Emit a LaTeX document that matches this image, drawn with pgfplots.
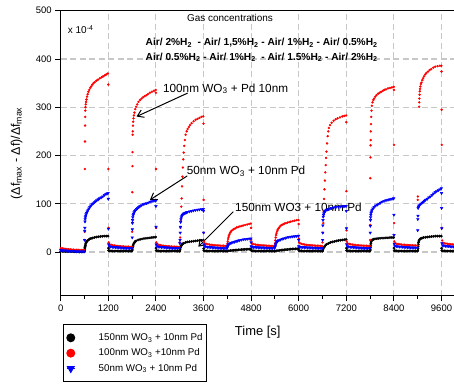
\documentclass[border=0pt]{standalone}
\usepackage{fontspec}
\setmainfont{Liberation Sans}
\usepackage{pgfplots}
\pgfplotsset{compat=1.18}
\usetikzlibrary{arrows.meta}
\newcommand\fs[1]{\fontsize{#1}{#1}\selectfont}
\begin{document}
\begin{tikzpicture}
\useasboundingbox (0,0) rectangle (454bp,387bp);
\begin{axis}[
  at={(60.7bp,91.3bp)}, anchor=south west,
  width=393.3bp, height=285bp, scale only axis,
  xmin=0, xmax=9915, ymin=-90.5, ymax=500,
  axis x line=box, axis y line*=left,
  xtick pos=left, xticklabel pos=left,
  tick align=outside,
  major tick length=5.5bp, minor tick length=3bp,
  xtick={0,1200,...,9600}, minor x tick num=1,
  ytick={0,100,...,500},
  grid=major,
  grid style={dash pattern=on 6bp off 3.5bp, black!22, line width=1.1bp},
  tick style={black, line width=0.9bp},
  axis line style={line width=1.3bp},
  ticklabel style={font=\fs{9.5}},
  /pgf/number format/assume math mode=true,
  /pgf/number format/1000 sep={},
  xlabel={Time [s]},
  xlabel style={font=\fs{13}, at={(axis description cs:0.501,-0.129)}, anchor=center},
  ylabel={(Δf\textsubscript{max} - Δf)/Δf\textsubscript{max}},
  ylabel style={font=\fs{12.5}, at={(axis description cs:-0.112,0.5)}, anchor=center},
  legend style={at={(axis description cs:0.0068,-0.0995)}, anchor=north west,
    draw=black, line width=0.9bp, font=\fs{9.8}, row sep=2.8bp,
    inner xsep=2.5bp, inner ysep=7bp,
    nodes={inner xsep=1bp, inner ysep=2bp},
    /tikz/every odd column/.append style={column sep=22.5bp},
    cells={anchor=west}},
  legend image code/.code={\path (0bp,0bp) -- (8bp,0bp); \draw[#1, mark size=4bp] plot coordinates {(4bp,0bp)};},
]
% black: 150nm WO3
\addplot[only marks, mark=*, mark size=1.2bp, black] coordinates {
(0,1.5)(40,1.5)(80,1.5)(120,1)(160,1)(200,1)(240,1)(280,1)(320,1)(360,0.5)(400,0.5)(440,0.5)(480,0.5)(520,0.5)(560,0.5)(595,0.5)
(600,3)(605,6)(610,9)(615,12)(620,14)(630,17)(640,19)(650,21)(670,23)(700,25)(730,27)(760,28)(800,29)(850,30)(900,31)(950,31.5)(1000,32)(1050,32.5)(1100,33)(1150,33)(1195,33)
(1203,8)(1208,3)(1230,2.5)(1270,2.5)(1310,2)(1350,2)(1390,2)(1430,2)(1470,2)(1510,2)(1550,2)(1590,2)(1630,2)(1670,2)(1710,2)(1750,2)(1790,2)
(1800,3)(1805,6)(1810,9)(1820,12)(1830,15)(1845,18)(1860,20)(1880,22)(1900,23)(1950,25)(2000,26)(2050,27)(2100,28)(2150,28.5)(2200,29)(2250,29.5)(2300,30)(2350,30.5)(2395,31)
(2403,8)(2408,3)(2430,2.5)(2470,2.5)(2510,2)(2550,2)(2590,2)(2630,2)(2670,2)(2710,2)(2750,2)(2790,2)(2830,2)(2870,2)(2910,2)(2950,2)(2990,2)
(3000,2)(3005,4)(3010,6)(3020,9)(3030,12)(3045,14)(3060,16)(3080,17)(3100,18)(3150,20)(3200,21)(3250,21.5)(3300,22)(3350,22.5)(3400,23)(3450,23.5)(3500,24)(3550,24)(3595,24.5)
(3603,7)(3608,3)(3630,2.5)(3670,2.5)(3710,2)(3750,2)(3790,2)(3830,2)(3870,2)(3910,2)(3950,2)(3990,2)(4030,2)(4070,2)(4110,2)(4150,2)(4190,2)
(4200,2)(4240,2.5)(4280,3)(4320,3.3)(4360,3.6)(4400,4)(4440,4.2)(4480,4.5)(4520,4.7)(4560,5)(4600,5.2)(4640,5.4)(4680,5.6)(4720,5.8)(4760,6)(4795,6.2)
(4805,3)(4830,2.5)(4870,2.5)(4910,2)(4950,2)(4990,2)(5030,2)(5070,2)(5110,2)(5150,2)(5190,2)(5230,2)(5270,2)(5310,2)(5350,2)(5390,2)
(5400,2)(5440,2.5)(5480,3)(5520,3.5)(5560,4)(5600,4.3)(5640,4.6)(5680,5)(5720,5.3)(5760,5.6)(5800,5.9)(5840,6.2)(5880,6.4)(5920,6.6)(5960,6.8)(5995,7)
(6005,3)(6030,2.5)(6070,2.5)(6110,2)(6150,2)(6190,2)(6230,2)(6270,2)(6310,2)(6350,2)(6390,2)(6430,2)(6470,2)(6510,2)(6550,2)(6590,2)
(6600,2)(6605,4)(6610,6)(6620,8)(6635,10)(6650,11)(6675,14)(6700,16)(6750,18)(6800,20)(6850,21)(6900,22)(6950,23)(7000,24)(7050,24.5)(7100,25)(7150,25.5)(7195,26)
(7203,8)(7208,3)(7230,2.5)(7270,2.5)(7310,2)(7350,2)(7390,2)(7430,2)(7470,2)(7510,2)(7550,2)(7590,2)(7630,2)(7670,2)(7710,2)(7750,2)(7790,2)
(7800,3)(7805,6)(7810,10)(7815,14)(7820,18)(7825,21)(7830,23)(7840,24)(7850,25)(7875,26)(7900,27)(7950,27.5)(8000,28)(8050,28.5)(8100,29)(8150,29)(8200,29.5)(8250,29.5)(8300,30)(8350,30)(8395,30)
(8403,8)(8408,3)(8430,2.5)(8470,2.5)(8510,2)(8550,2)(8590,2)(8630,2)(8670,2)(8710,2)(8750,2)(8790,2)(8830,2)(8870,2)(8910,2)(8950,2)(8990,2)
(9000,3)(9005,7)(9010,12)(9015,16)(9020,20)(9030,23)(9040,25)(9060,27)(9080,28)(9110,29)(9150,30)(9200,30.5)(9250,31)(9300,31.5)(9350,32)(9400,32.5)(9450,33)(9500,33)(9550,33)(9595,33)
(9603,8)(9608,3)(9630,2.5)(9670,2.5)(9710,2)(9750,2)(9790,2)(9830,2)(9870,2)(9910,2)
};
\addlegendentry{150nm WO\textsubscript{3} + 10nm Pd}
% red: 100nm WO3
\addplot[only marks, mark=*, mark size=1bp, red] coordinates {
(0,8)(40,7.5)(80,7)(120,6.5)(160,6)(200,5.5)(240,5.5)(280,5)(320,5)(360,4.5)(400,4.5)(440,4.5)(480,4)(520,4)(560,4)(590,4)
(603,25)(606,42)(609,172)(612,229)(615,262)(618,280)(621,293)(625,300)(632,306)(640,311)(650,316)(665,322)(680,327)(700,332)(720,336)(745,340)(770,343)(800,347)(830,350)(860,352)(900,355)(940,357)(985,360)(1030,362)(1070,364)(1110,366)(1150,368)(1190,370)
(1200,347)(1203,172)(1206,50)
(1210,20)(1230,16)(1270,15)(1310,14)(1350,13.5)(1390,13)(1430,12.5)(1470,12)(1510,12)(1550,11.5)(1590,11.5)(1630,11)(1670,11)(1710,11)(1750,10.5)(1790,10.5)
(1800,42)(1803,61)(1806,124)(1809,178)(1812,207)(1815,243)(1818,250)(1822,262)(1828,270)(1836,277)(1846,283)(1860,289)(1880,296)(1900,301)(1930,306)(1960,311)(2000,315)(2040,318)(2080,321)(2120,323)(2160,325)(2200,327)(2250,330)(2300,332)(2350,334)(2395,336)
(2400,330)(2403,172)(2406,50)
(2410,20)(2430,16)(2470,15)(2510,14)(2550,13.5)(2590,13)(2630,12.5)(2670,12)(2710,12)(2750,11.5)(2790,11.5)(2830,11)(2870,11)(2910,11)(2950,10.5)(2990,10.5)
(3003,20)(3010,30)(3020,50)(3030,66)(3040,94)(3050,111)(3060,136)(3070,156)(3080,175)(3090,192)(3100,206)(3115,220)(3130,232)(3150,243)(3175,250)(3200,255)(3230,259)(3260,263)(3300,267)(3350,271)(3400,274)(3450,276)(3500,278)(3550,280)(3595,281)
(3600,266)(3603,108)(3606,40)
(3610,22)(3630,18)(3670,17)(3710,16)(3750,15.5)(3790,15)(3830,14.5)(3870,14)(3910,14)(3950,13.5)(3990,13.5)(4030,13)(4070,13)(4110,13)(4150,12.5)(4190,12.5)
(4200,14)(4205,18)(4210,22)(4220,27)(4230,31)(4240,34)(4255,37)(4270,40)(4290,42)(4310,44)(4340,46)(4370,48)(4400,49)(4440,51)(4480,52)(4520,53)(4560,54)(4600,55)(4650,56)(4700,57)(4750,58)(4795,59)
(4800,50)(4803,25)
(4810,19)(4830,17)(4870,16)(4910,15.5)(4950,15)(4990,14.5)(5030,14)(5070,14)(5110,13.5)(5150,13.5)(5190,13)(5230,13)(5270,12.5)(5310,12.5)(5350,12.5)(5390,12)
(5400,14)(5405,18)(5410,24)(5420,30)(5430,35)(5440,39)(5455,43)(5470,46)(5490,49)(5510,51)(5540,54)(5570,56)(5600,57)(5640,59)(5680,60)(5720,61)(5760,62)(5800,63)(5850,64)(5900,65)(5950,66)(5995,66)
(6000,58)(6003,28)
(6010,20)(6030,18)(6070,17)(6110,16)(6150,15.5)(6190,15)(6230,14.5)(6270,14)(6310,14)(6350,13.5)(6390,13.5)(6430,13)(6470,13)(6510,13)(6550,12.5)(6590,12.5)
(6600,20)(6610,40)(6620,60)(6630,85)(6640,110)(6650,130)(6660,148)(6670,165)(6680,180)(6690,195)(6700,208)(6715,225)(6730,240)(6745,250)(6760,257)(6790,263)(6830,268)(6880,272)(6930,275)(6980,277)(7040,279)(7100,281)(7150,282)(7195,283)
(7200,269)(7203,126)(7206,45)
(7210,22)(7230,18)(7270,17)(7310,16)(7350,15.5)(7390,15)(7430,14.5)(7470,14)(7510,14)(7550,13.5)(7590,13.5)(7630,13)(7670,13)(7710,13)(7750,12.5)(7790,12.5)
(7800,25)(7803,56)(7806,153)(7809,196)(7812,221)(7815,232)(7818,250)(7822,265)(7828,280)(7836,293)(7846,303)(7860,310)(7880,315)(7900,318)(7930,322)(7960,325)(8000,328)(8040,330)(8080,332)(8120,334)(8160,336)(8200,337)(8250,339)(8300,340)(8350,341)(8395,342)
(8400,336)(8403,222)(8406,60)
(8410,22)(8430,18)(8470,17)(8510,16.5)(8550,16)(8590,15.5)(8630,15)(8670,15)(8710,14.5)(8750,14.5)(8790,14)(8830,14)(8870,14)(8910,13.5)(8950,13.5)(8990,13.5)
(9000,108)(9004,115)(9035,301)(9039,310)(9043,318)(9047,326)(9052,333)(9058,338)(9066,343)(9080,348)(9094,351)(9115,356)(9137,360)(9160,364)(9190,368)(9220,371)(9260,374)(9300,377)(9340,379)(9390,382)(9440,384)(9500,385)(9558,386)(9595,386)
(9600,374)(9603,295)(9606,222)(9609,50)
(9615,24)(9635,19)(9670,18)(9710,17.5)(9750,17)(9790,16.5)(9830,16)(9870,16)(9910,15.5)
};
\addlegendentry{100nm WO\textsubscript{3} +10nm Pd}
% blue: 50nm WO3
\addplot[only marks, mark=triangle*, mark size=1.5bp, blue, mark options={rotate=180}] coordinates {
(0,4)(40,3.5)(80,3)(120,3)(160,2.5)(200,2.5)(240,2)(280,2)(320,2)(360,1.5)(400,1.5)(440,1.5)(480,1)(520,1)(560,1)(590,1)
(603,25)(606,44)(609,50)(612,63)(616,68)(622,72)(630,75)(640,78)(655,81)(670,84)(690,87)(710,90)(735,93)(760,96)(790,99)(820,101)(850,103)(880,105)(910,107)(945,109)(980,111)(1020,113)(1060,115)(1100,118)(1140,120)(1170,121)(1195,122)
(1200,110)(1203,48)
(1208,16)(1225,12)(1260,11)(1300,10.5)(1340,10)(1380,10)(1420,9.5)(1460,9)(1500,9)(1540,8.5)(1580,8.5)(1620,8)(1660,8)(1700,8)(1740,7.5)(1790,7.5)
(1803,30)(1806,47)(1809,60)(1812,66)(1818,72)(1826,76)(1836,79)(1850,82)(1870,85)(1890,87)(1915,89)(1940,91)(1970,93)(2000,95)(2040,97)(2080,99)(2120,100)(2160,101)(2200,102)(2250,104)(2300,105)(2350,106)(2395,106)
(2400,95)(2403,52)
(2408,16)(2425,12)(2460,11)(2500,10.5)(2540,10)(2580,10)(2620,9.5)(2660,9)(2700,9)(2740,8.5)(2780,8.5)(2820,8)(2860,8)(2900,8)(2940,7.5)(2990,7.5)
(3003,18)(3008,25)(3013,40)(3018,52)(3024,62)(3030,68)(3040,72)(3055,75)(3070,77)(3090,79)(3115,80)(3140,81)(3170,82)(3200,83)(3250,84)(3300,85)(3350,86)(3400,87)(3450,87.5)(3500,88)(3550,88.5)(3595,89)
(3600,85)(3603,40)
(3608,16)(3625,12)(3660,11)(3700,10.5)(3740,10)(3780,10)(3820,9.5)(3860,9)(3900,9)(3940,8.5)(3980,8.5)(4020,8)(4060,8)(4100,8)(4140,7.5)(4190,7.5)
(4200,10)(4210,12)(4220,14)(4235,16)(4250,17)(4270,18)(4300,19)(4340,20)(4380,21)(4420,22)(4460,23)(4500,24)(4550,25)(4600,26)(4650,26.5)(4700,27)(4750,27.5)(4795,28)
(4800,20)(4803,12)
(4808,11)(4825,10.5)(4860,10)(4900,10)(4940,9.5)(4980,9.5)(5020,9)(5060,9)(5100,9)(5140,8.5)(5180,8.5)(5220,8.5)(5260,8)(5300,8)(5340,8)(5390,8)
(5400,10)(5410,13)(5420,16)(5435,19)(5450,21)(5470,23)(5500,24)(5540,25.5)(5580,27)(5620,28)(5660,29)(5700,30)(5750,31)(5800,31.5)(5850,32)(5900,32.5)(5950,33)(5995,33.5)
(6000,25)(6003,12)
(6008,11)(6025,10.5)(6060,10)(6100,10)(6140,9.5)(6180,9.5)(6220,9)(6260,9)(6300,9)(6340,8.5)(6380,8.5)(6420,8.5)(6460,8)(6500,8)(6540,8)(6590,8)
(6603,25)(6606,40)(6609,55)(6612,66)(6618,73)(6626,77)(6636,80)(6650,83)(6670,85)(6690,87)(6720,88)(6750,89)(6790,90)(6830,91)(6880,92)(6940,93)(7000,93.5)(7060,94)(7120,94.5)(7160,95)(7195,95)
(7200,85)(7203,49)
(7208,16)(7225,12)(7260,11)(7300,10.5)(7340,10)(7380,10)(7420,9.5)(7460,9)(7500,9)(7540,8.5)(7580,8.5)(7620,8)(7660,8)(7700,8)(7740,7.5)(7790,7.5)
(7803,40)(7806,54)(7809,66)(7813,72)(7818,77)(7825,81)(7835,84)(7850,87)(7870,90)(7900,93)(7940,96)(7980,98)(8020,100)(8060,102)(8100,104)(8150,105.5)(8200,107)(8250,108)(8300,109)(8350,110)(8395,111)
(8400,77)(8403,35)
(8408,17)(8425,13)(8460,12)(8500,11.5)(8540,11)(8580,11)(8620,10.5)(8660,10)(8700,10)(8740,9.5)(8780,9.5)(8820,9)(8860,9)(8900,9)(8940,8.5)(8990,8.5)
(9000,45)(9003,68)(9006,75)(9010,91)(9020,94)(9035,96)(9055,98)(9080,100)(9110,102)(9140,104)(9170,106)(9200,108)(9240,110)(9280,113)(9320,115)(9360,118)(9400,121)(9440,124)(9480,126)(9520,128)(9560,130)(9595,132)
(9600,122)(9603,91)(9606,49)
(9610,18)(9630,14)(9660,13)(9700,12.5)(9740,12)(9780,12)(9820,11.5)(9860,11)(9900,11)
};
\addlegendentry{50nm WO\textsubscript{3} + 10nm Pd}
% annotations
\node[inner sep=0, font=\fs{10}] at (axis cs:4269,485) {Gas concentrations};
\node[inner sep=0, anchor=west, font=\fs{10}] at (axis cs:177,460.6) {x 10\textsuperscript{-4}};
\node[inner sep=0, anchor=west, font=\bfseries\fs{10.2}] at (axis cs:2139,433.6) {Air/ 2\%H\textsubscript{2}\ \ - Air/ 1,5\%H\textsubscript{2} - Air/ 1\%H\textsubscript{2} - Air/ 0.5\%H\textsubscript{2}};
\node[inner sep=0, anchor=west, font=\bfseries\fs{10.2}] at (axis cs:2139,403.5) {Air/ 0.5\%H\textsubscript{2} - Air/ 1\%H\textsubscript{2}\ \ - Air/ 1.5\%H\textsubscript{2} - Air/ 2\%H\textsubscript{2}};
\node[inner sep=0, anchor=west, font=\fs{11.8}] at (axis cs:2577,338.2) {100nm WO\textsubscript{3} + Pd 10nm};
\node[inner sep=0, anchor=west, font=\fs{11.8}] at (axis cs:3175,166.6) {50nm WO\textsubscript{3} + 10nm Pd};
\node[inner sep=0, anchor=west, font=\fs{11.8}] at (axis cs:4395,92.7) {150nm WO3 + 10nm Pd};
\draw[-{Straight Barb[length=6bp,width=8bp]}, line width=1bp] (axis cs:3200,329.3) -- (axis cs:1912,280.7);
\draw[-{Straight Barb[length=6bp,width=8bp]}, line width=1bp] (axis cs:3190,157.7) -- (axis cs:2248,107.9);
\draw[-{Straight Barb[length=6bp,width=8bp]}, line width=1bp] (axis cs:4352,83.6) -- (axis cs:3468,11);
\end{axis}
\end{tikzpicture}
\end{document}
